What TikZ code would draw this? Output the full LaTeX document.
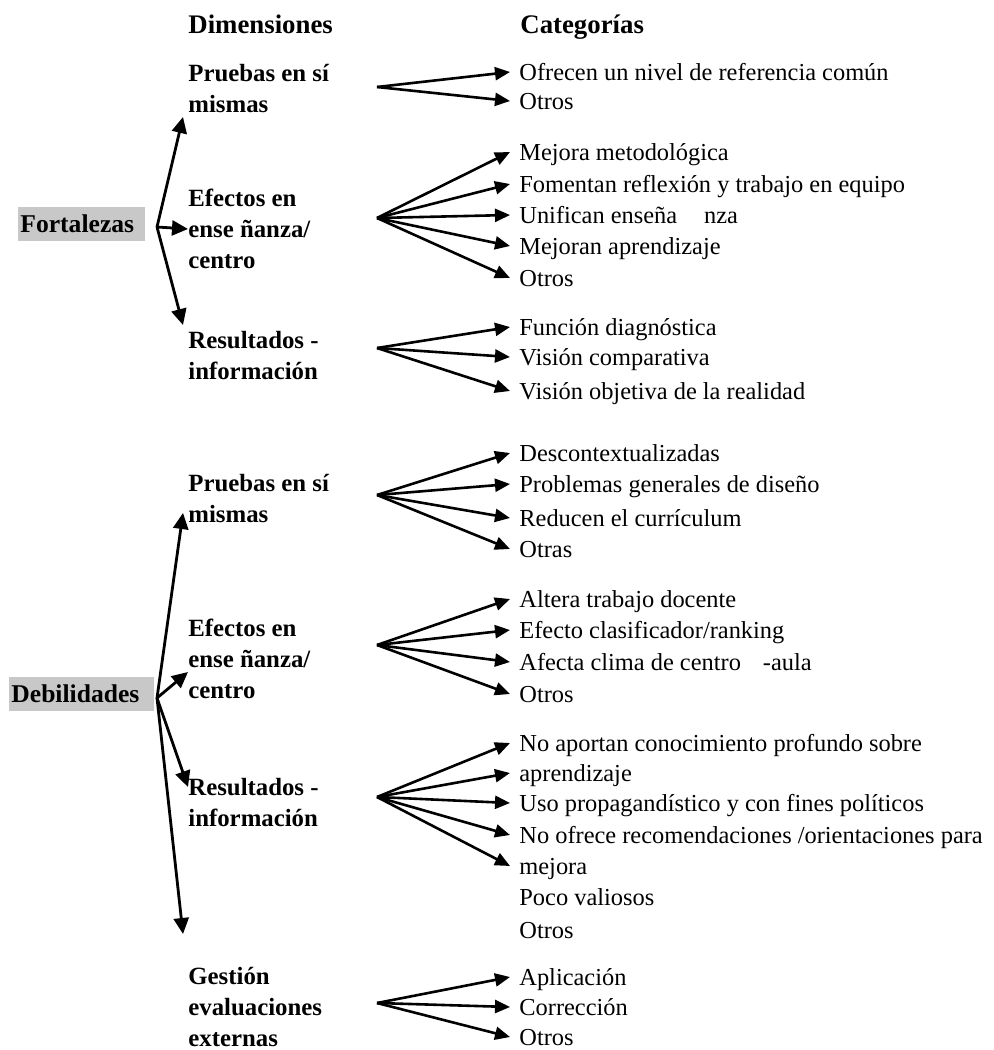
\documentclass[tikz,border=0pt]{standalone}
\usepackage{fontspec}
\setmainfont{Liberation Serif}
\usetikzlibrary{arrows.meta}
\definecolor{boxgray}{RGB}{200,200,200}
\begin{document}
\begin{tikzpicture}[x=0.5pt,y=-0.5pt,
  cat/.style={anchor=base west, inner sep=0pt, font=\fontsize{12.2}{14}\selectfont},
  dim/.style={anchor=north west, inner sep=0pt, align=left, font=\fontsize{12.4}{15.4}\selectfont\bfseries},
  head/.style={anchor=base west, inner sep=0pt, font=\fontsize{13.4}{15}\selectfont\bfseries},
  mainbox/.style={fill=boxgray, anchor=west, inner xsep=1pt, inner ysep=0pt, align=left, font=\fontsize{12.8}{15}\selectfont\bfseries, minimum height=16.8pt},
  arr/.style={-{Triangle[length=7.5pt,width=6.5pt]}, line width=1.3pt},
  hubarr/.style={-{Triangle[length=8pt,width=7.5pt]}, line width=1.4pt}]
\useasboundingbox (0,0) rectangle (993,1050);

% headers
\node[head] (hdim) at (188,33) {Dimensiones};
\node[head] (hcat) at (520,33) {Categorías};

% main boxes
\node[mainbox, text width=61.5pt] (fort) at (18,224) {Fortalezas};
\node[mainbox, text width=70.5pt] (deb) at (9,694) {Debilidades};

% hubs
\coordinate (hubF) at (157,227);
\coordinate (hubD) at (157,698);

% dimension labels
\node[dim] (dF1) at (188,64) {Pruebas en sí\\mismas};
\node[dim] (dF2) at (188,189) {Efectos en\\ense ñanza/\\centro};
\node[dim] (dF3) at (188,331) {Resultados -\\información};
\node[dim] (dD1) at (188,474) {Pruebas en sí\\mismas};
\node[dim] (dD2) at (188,619) {Efectos en\\ense ñanza/\\centro};
\node[dim] (dD3) at (188,778) {Resultados -\\información};
\node[dim] (dD4) at (188,967) {Gestión\\evaluaciones\\externas};

% hub arrow tips
\coordinate (tF1) at (183,117);
\coordinate (tF2) at (188,229);
\coordinate (tF3) at (183,325);
\coordinate (tD1) at (183,513);
\coordinate (tD2) at (188,672);
\coordinate (tD3) at (188,787);
\coordinate (tD4) at (183,934);

\foreach \t in {tF1,tF2,tF3} \draw[hubarr] (hubF) -- (\t);
\foreach \t in {tD1,tD2,tD3,tD4} \draw[hubarr] (hubD) -- (\t);

% fan origins
\coordinate (oF1) at (377,87);
\coordinate (oF2) at (377,218);
\coordinate (oF3) at (377,348);
\coordinate (oD1) at (377,495);
\coordinate (oD2) at (377,645);
\coordinate (oD3) at (377,797);
\coordinate (oD4) at (377,1003);

% categories
\node[cat] (c11) at (519,80) {Ofrecen un nivel de referencia común};
\node[cat] (c12) at (519,109) {Otros};
\node[cat] (c21) at (519,160) {Mejora metodológica};
\node[cat] (c22) at (519,192) {Fomentan reflexión y trabajo en equipo};
\node[cat] (c23) at (519,223) {Unifican enseña\hspace{1.1em}nza};
\node[cat] (c24) at (519,254) {Mejoran aprendizaje};
\node[cat] (c25) at (519,286) {Otros};
\node[cat] (c31) at (519,335) {Función diagnóstica};
\node[cat] (c32) at (519,365) {Visión comparativa};
\node[cat] (c33) at (519,399) {Visión objetiva de la realidad};

\node[cat] (e11) at (519,461) {Descontextualizadas};
\node[cat] (e12) at (519,492) {Problemas generales de diseño};
\node[cat] (e13) at (519,526) {Reducen el currículum};
\node[cat] (e14) at (519,557) {Otras};
\node[cat] (e21) at (519,607) {Altera trabajo docente};
\node[cat] (e22) at (519,638) {Efecto clasificador/ranking};
\node[cat] (e23) at (519,670) {Afecta clima de centro\hspace{0.9em}-aula};
\node[cat] (e24) at (519,702) {Otros};
\node[cat] (e31) at (519,751) {No aportan conocimiento profundo sobre};
\node[cat] (e32) at (519,781) {aprendizaje};
\node[cat] (e33) at (519,811) {Uso propagandístico y con fines políticos};
\node[cat] (e34) at (519,843) {No ofrece recomendaciones /orientaciones para};
\node[cat] (e35) at (519,874) {mejora};
\node[cat] (e36) at (519,905) {Poco valiosos};
\node[cat] (e37) at (519,938) {Otros};
\node[cat] (e41) at (519,985) {Aplicación};
\node[cat] (e42) at (519,1015) {Corrección};
\node[cat] (e43) at (519,1045) {Otros};

% fan arrows
\foreach \o/\c in {oF1/c11,oF1/c12,
                   oF2/c21,oF2/c22,oF2/c23,oF2/c24,oF2/c25,
                   oF3/c31,oF3/c32,oF3/c33,
                   oD1/e11,oD1/e12,oD1/e13,oD1/e14,
                   oD2/e21,oD2/e22,oD2/e23,oD2/e24,
                   oD3/e31,oD3/e32,oD3/e33,oD3/e34,oD3/e35,
                   oD4/e41,oD4/e42,oD4/e43}
  \draw[arr] (\o) -- ([shift={(-4.5pt,4pt)}]\c.base west);
\end{tikzpicture}
\end{document}
